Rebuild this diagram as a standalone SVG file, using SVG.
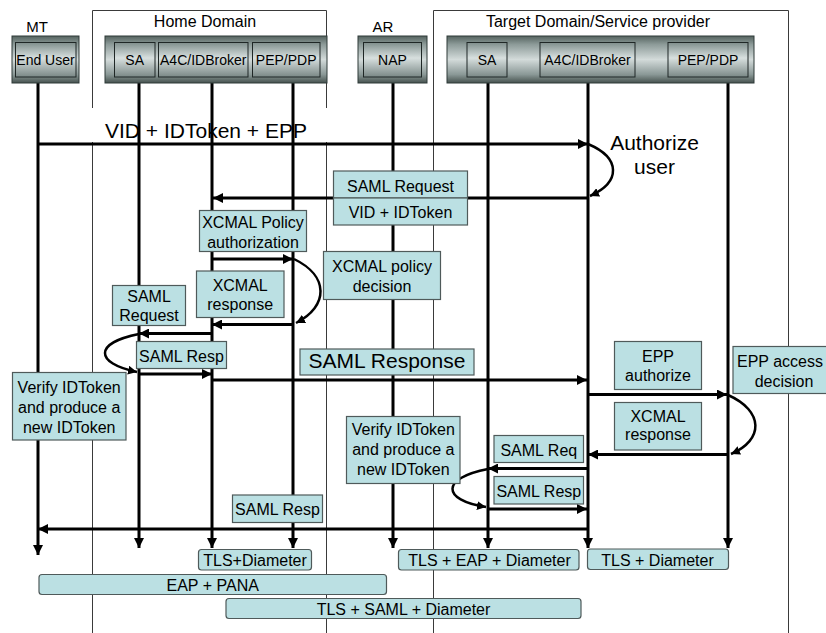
<svg xmlns="http://www.w3.org/2000/svg" width="826" height="633" viewBox="0 0 826 633">
  <defs>
    <linearGradient id="barGrad" x1="0" y1="0" x2="0" y2="1">
      <stop offset="0" stop-color="#55635f"/>
      <stop offset="0.18" stop-color="#8d9b99"/>
      <stop offset="0.5" stop-color="#d3dbda"/>
      <stop offset="0.82" stop-color="#8a9896"/>
      <stop offset="1" stop-color="#46524f"/>
    </linearGradient>
    <linearGradient id="cellGrad" x1="0" y1="0" x2="0" y2="1">
      <stop offset="0" stop-color="#7f8e8c"/>
      <stop offset="0.45" stop-color="#d8e0df"/>
      <stop offset="1" stop-color="#7a8886"/>
    </linearGradient>
    <marker id="ah" viewBox="0 0 10 10" refX="10" refY="5" markerWidth="10" markerHeight="10" markerUnits="userSpaceOnUse" orient="auto">
      <path d="M0,0L10,5L0,10z" fill="#000"/>
    </marker>
    <marker id="ahs" viewBox="0 0 10 10" refX="10" refY="5" markerWidth="9" markerHeight="9" markerUnits="userSpaceOnUse" orient="auto">
      <path d="M0,0L10,5L0,10z" fill="#000"/>
    </marker>
    <style>
      text { font-family: "Liberation Sans", Arial, sans-serif; fill: #000; }
      .frame { fill: none; stroke: #3a3a3a; stroke-width: 1; }
      .bar { fill: url(#barGrad); stroke: #2e3a38; stroke-width: 1; }
      .cell { fill: url(#cellGrad); stroke: #1f2726; stroke-width: 1; }
      .life { stroke: #000; stroke-width: 3; fill: none; marker-end: url(#ah); }
      .msg { stroke: #000; stroke-width: 3; fill: none; marker-end: url(#ah); }
      .loop { stroke: #000; stroke-width: 2.5; fill: none; marker-end: url(#ahs); }
      .note { fill: #bbe0e3; stroke: #4f5a5a; stroke-width: 1.2; }
      .t14 { font-size: 14px; text-anchor: middle; }
      .t15 { font-size: 15px; text-anchor: middle; }
      .t16 { font-size: 16px; text-anchor: middle; }
      .t21 { font-size: 21px; text-anchor: middle; }
    </style>
  </defs>

  <!-- domain frames, open at the bottom -->
  <g id="domains">
    <path class="frame" d="M92.5,633V10.5H326.5V633"/>
    <path class="frame" d="M433.5,633V10.5H788.5V633"/>
    <text class="t16" x="205" y="26.5">Home Domain</text>
    <text class="t16" x="598" y="27">Target Domain/Service provider</text>
    <text class="t15" x="37" y="32">MT</text>
    <text class="t15" x="383" y="32">AR</text>
  </g>

  <!-- label background for the first message -->
  <rect x="58" y="108" width="292" height="34" fill="#fff"/>

  <!-- lifelines -->
  <g id="lifelines">
    <line class="life" x1="38" y1="83" x2="38" y2="555"/>
    <line class="life" x1="139" y1="83" x2="139" y2="548"/>
    <line class="life" x1="212" y1="83" x2="212" y2="548"/>
    <line class="life" x1="293" y1="83" x2="293" y2="548"/>
    <line class="life" x1="393" y1="83" x2="393" y2="548"/>
    <line class="life" x1="488" y1="83" x2="488" y2="548"/>
    <line class="life" x1="588" y1="83" x2="588" y2="548"/>
    <line class="life" x1="728" y1="83" x2="728" y2="548"/>
  </g>

  <!-- lifeline heads -->
  <g id="mt-end-user">
    <rect class="bar" x="12" y="36" width="67" height="47"/>
    <rect class="cell" x="15.5" y="42.5" width="60.5" height="34.5"/>
    <text class="t14" x="45.5" y="64.5">End User</text>
  </g>
  <g id="home-domain">
    <rect class="bar" x="105" y="36" width="222" height="47"/>
    <g id="home-sa">
      <rect class="cell" x="114.5" y="42.5" width="40.5" height="34.5"/>
      <text class="t14" x="134.7" y="64.5">SA</text>
    </g>
    <g id="home-a4c">
      <rect class="cell" x="158.5" y="42.5" width="89.5" height="34.5"/>
      <text class="t14" x="203.2" y="64.5">A4C/IDBroker</text>
    </g>
    <g id="home-pep">
      <rect class="cell" x="252.5" y="42.5" width="67.5" height="34.5"/>
      <text class="t14" x="286.2" y="64.5">PEP/PDP</text>
    </g>
  </g>
  <g id="ar-nap">
    <rect class="bar" x="358" y="36" width="69" height="47"/>
    <rect class="cell" x="363.5" y="42.5" width="58" height="34.5"/>
    <text class="t14" x="392.5" y="64.5">NAP</text>
  </g>
  <g id="target-domain">
    <rect class="bar" x="447" y="36" width="307" height="47"/>
    <g id="target-sa">
      <rect class="cell" x="467" y="42.5" width="40" height="34.5"/>
      <text class="t14" x="487" y="64.5">SA</text>
    </g>
    <g id="target-a4c">
      <rect class="cell" x="540" y="42.5" width="95" height="34.5"/>
      <text class="t14" x="587.5" y="64.5">A4C/IDBroker</text>
    </g>
    <g id="target-pep">
      <rect class="cell" x="668" y="42.5" width="80" height="34.5"/>
      <text class="t14" x="708" y="64.5">PEP/PDP</text>
    </g>
  </g>

  <!-- messages -->
  <g id="connectors">
    <line class="msg" x1="38" y1="144" x2="588" y2="144"/>
    <path class="loop" d="M588,144C621,158 621,182 590,196"/>
    <line class="msg" x1="588" y1="198" x2="213" y2="198"/>
    <line class="msg" x1="212" y1="259" x2="293" y2="259"/>
    <path class="loop" d="M294,259C329,276 329,306 296,323"/>
    <line class="msg" x1="293" y1="324.5" x2="212" y2="324.5"/>
    <line class="msg" x1="212" y1="333.5" x2="139" y2="333.5"/>
    <path class="loop" d="M139,334C94,343 94,363 137,372"/>
    <line class="msg" x1="139" y1="374" x2="212" y2="374"/>
    <line class="msg" x1="212" y1="380" x2="587" y2="380"/>
    <line class="msg" x1="588" y1="394.5" x2="727" y2="394.5"/>
    <path class="loop" d="M728,395C764,411 764,440 731,454"/>
    <line class="msg" x1="728" y1="454.5" x2="588" y2="454.5"/>
    <line class="msg" x1="588" y1="468.5" x2="488" y2="468.5"/>
    <path class="loop" d="M488,469C441,478 441,500 486,507"/>
    <line class="msg" x1="488" y1="509" x2="587" y2="509"/>
    <line class="msg" x1="588" y1="529" x2="38" y2="529"/>
  </g>

  <!-- message labels -->
  <g id="labels">
    <text class="t21" x="206" y="138">VID + IDToken + EPP</text>
    <text class="t21" x="654.5" y="149.5">Authorize</text>
    <text class="t21" x="654.5" y="174">user</text>

    <g id="saml-request-top">
      <rect class="note" x="333.5" y="171" width="134" height="27"/>
      <text class="t16" x="400.5" y="191.5">SAML Request</text>
      <rect class="note" x="333.5" y="198" width="134" height="27"/>
      <text class="t16" x="400.5" y="218.3">VID + IDToken</text>
    </g>
    <g id="xcmal-policy-auth">
      <rect class="note" x="199.5" y="210.5" width="107" height="41"/>
      <text class="t16" x="253" y="228">XCMAL Policy</text>
      <text class="t16" x="253" y="247.5">authorization</text>
    </g>
    <g id="xcmal-response-home">
      <rect class="note" x="196.5" y="271" width="87.5" height="46.5"/>
      <text class="t16" x="240.2" y="290.7">XCMAL</text>
      <text class="t16" x="240.2" y="310">response</text>
    </g>
    <g id="xcmal-policy-decision">
      <rect class="note" x="323.5" y="251.5" width="117" height="48"/>
      <text class="t16" x="382" y="271.5">XCMAL policy</text>
      <text class="t16" x="382" y="291.5">decision</text>
    </g>
    <g id="saml-request-left">
      <rect class="note" x="112.5" y="285.5" width="73" height="40"/>
      <text class="t16" x="149" y="301.5">SAML</text>
      <text class="t16" x="149" y="320.5">Request</text>
    </g>
    <g id="saml-resp-home">
      <rect class="note" x="136.5" y="341.5" width="90" height="27"/>
      <text class="t16" x="181.5" y="361.5">SAML Resp</text>
    </g>
    <g id="saml-response-main">
      <rect class="note" x="300" y="349" width="174" height="26"/>
      <text class="t21" x="387" y="368">SAML Response</text>
    </g>
    <g id="verify-mt">
      <rect class="note" x="12.5" y="372.5" width="113.5" height="67.5"/>
      <text class="t16" x="69.2" y="393">Verify IDToken</text>
      <text class="t16" x="69.2" y="413">and produce a</text>
      <text class="t16" x="69.2" y="432.5">new IDToken</text>
    </g>
    <g id="epp-authorize">
      <rect class="note" x="614.5" y="341.5" width="87" height="48"/>
      <text class="t16" x="658" y="361.5">EPP</text>
      <text class="t16" x="658" y="381">authorize</text>
    </g>
    <g id="epp-access-decision">
      <rect class="note" x="733" y="346.5" width="105" height="47"/>
      <text class="t16" x="780" y="366.7">EPP access</text>
      <text class="t16" x="784" y="386.7">decision</text>
    </g>
    <g id="xcmal-response-target">
      <rect class="note" x="614.5" y="402.5" width="87" height="47.5"/>
      <text class="t16" x="658" y="421.5">XCMAL</text>
      <text class="t16" x="658" y="440">response</text>
    </g>
    <g id="saml-req-target">
      <rect class="note" x="494" y="435.5" width="89.5" height="27"/>
      <text class="t16" x="538.8" y="455.5">SAML Req</text>
    </g>
    <g id="verify-target">
      <rect class="note" x="346.5" y="416.5" width="113.5" height="67"/>
      <text class="t16" x="403.3" y="435">Verify IDToken</text>
      <text class="t16" x="403.3" y="455">and produce a</text>
      <text class="t16" x="403.3" y="474.5">new IDToken</text>
    </g>
    <g id="saml-resp-target">
      <rect class="note" x="494" y="476.5" width="89.5" height="27.5"/>
      <text class="t16" x="538.8" y="496.5">SAML Resp</text>
    </g>
    <g id="saml-resp-bottom">
      <rect class="note" x="232.5" y="495" width="90" height="27.5"/>
      <text class="t16" x="277.5" y="515">SAML Resp</text>
    </g>
  </g>

  <!-- protocol stacks -->
  <g id="protocols">
    <g id="proto-home">
      <rect class="note" x="198.5" y="549.5" width="113" height="20.5" rx="3"/>
      <text class="t16" x="255" y="566">TLS+Diameter</text>
    </g>
    <g id="proto-ar">
      <rect class="note" x="398.5" y="549.5" width="180.5" height="20.5" rx="3"/>
      <text class="t16" x="489.5" y="566">TLS + EAP + Diameter</text>
    </g>
    <g id="proto-target">
      <rect class="note" x="587.5" y="549" width="141" height="20.5" rx="3"/>
      <text class="t16" x="657.5" y="565.5">TLS + Diameter</text>
    </g>
    <g id="proto-eap-pana">
      <rect class="note" x="39" y="574.5" width="347.5" height="20" rx="3"/>
      <text class="t16" x="212.7" y="591">EAP + PANA</text>
    </g>
    <g id="proto-saml">
      <rect class="note" x="226" y="598.5" width="355" height="20" rx="3"/>
      <text class="t16" x="403.5" y="614.5">TLS + SAML + Diameter</text>
    </g>
  </g>
</svg>
